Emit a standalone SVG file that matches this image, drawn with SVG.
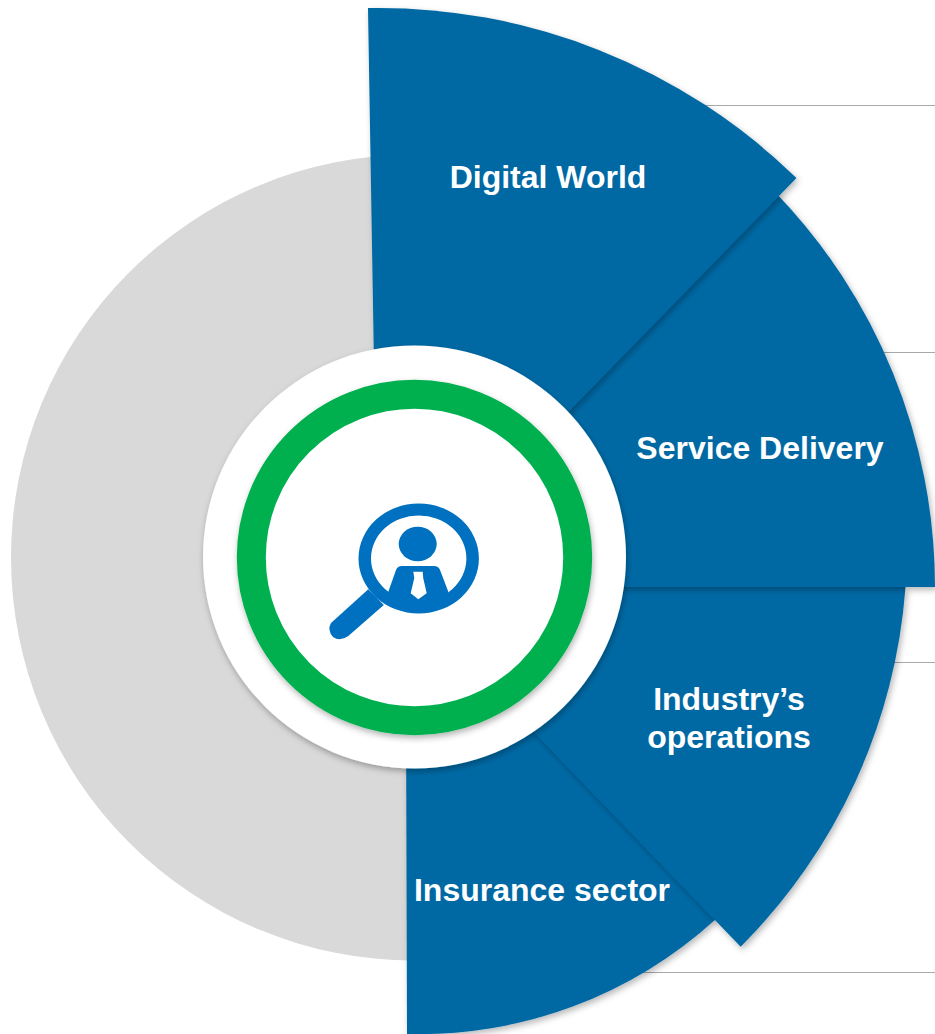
<svg xmlns="http://www.w3.org/2000/svg" width="935" height="1034" viewBox="0 0 935 1034">
<style>
.w{fill:#0369a4;filter:url(#sh)}
.t{font-family:"Liberation Sans",Arial,sans-serif;font-weight:700;font-size:32px;fill:#fff;text-anchor:middle}
.l{stroke:#a9a9a9;stroke-width:1;fill:none}
.i{fill:#0070c0}
</style>
<defs>
<filter id="sh" x="-10%" y="-10%" width="120%" height="120%"><feDropShadow dx="2" dy="3" stdDeviation="3" flood-color="#000" flood-opacity="0.28"/></filter>
<filter id="sr" x="-10%" y="-10%" width="120%" height="120%"><feDropShadow dx="1" dy="3" stdDeviation="3" flood-color="#000" flood-opacity="0.3"/></filter>
</defs>
<rect width="935" height="1034" fill="#fff"/>
<g id="backdrop"><circle cx="414" cy="557.5" r="403" fill="#d9d9d9"/></g>
<g id="connectors">
<path class="l" d="M700 105.500H935"/>
<path class="l" d="M880 352.500H935"/>
<path class="l" d="M890 662.500H935"/>
<path class="l" d="M635 972.500H935"/>
</g>
<g id="insurance">
<path class="w" d="M406 700L407 1034A440 440 0 0 0 716 919L560 700Z"/>
<text class="t" x="542" y="901">Insurance sector</text>
</g>
<g id="industry">
<path class="w" d="M905.500 587A568 568 0 0 1 740.700 946.700L500 697L500 587Z"/>
<text class="t" x="729" y="710">Industry’s</text>
<text class="t" x="729" y="748">operations</text>
</g>
<g id="service">
<path class="w" d="M935 587A568 568 0 0 0 773 190L500 480L500 587Z"/>
<text class="t" x="760" y="459">Service Delivery</text>
</g>
<g id="digital">
<path class="w" d="M368 8A599 599 0 0 1 796.500 178L500 482L376 482Z"/>
<text class="t" x="548" y="188">Digital World</text>
</g>
<g id="center">
<circle cx="414.500" cy="557" r="211.500" fill="#fff" filter="url(#sr)"/>
<circle cx="414.500" cy="557.500" r="163.200" fill="#fff" stroke="#00b050" stroke-width="29" filter="url(#sr)"/>
</g>
<g id="icon">
<path class="i" fill-rule="evenodd" d="M358.500 558.500a60.200 55 0 1 0 120.400 0a60.200 55 0 1 0 -120.400 0ZM371 558.500a47.700 43 0 1 1 95.400 0a47.700 43 0 1 1 -95.400 0Z"/>
<ellipse class="i" cx="417.700" cy="544" rx="19" ry="17.200"/>
<path class="i" d="M388.300 591.700L396 570Q397.500 566 402 566H434Q438.500 566 440 570L448.300 591.700L446 604H392Z"/>
<path fill="#fff" d="M413.300 571.700H422.700L423.200 578L426.700 593.300L418.300 599.300L410.700 593.300L414.300 578Z"/>
<path class="i" d="M368.300 589.300L383.800 605L348.300 636Q340 642 333 637Q327 630 331 623Z"/>
</g>
</svg>
